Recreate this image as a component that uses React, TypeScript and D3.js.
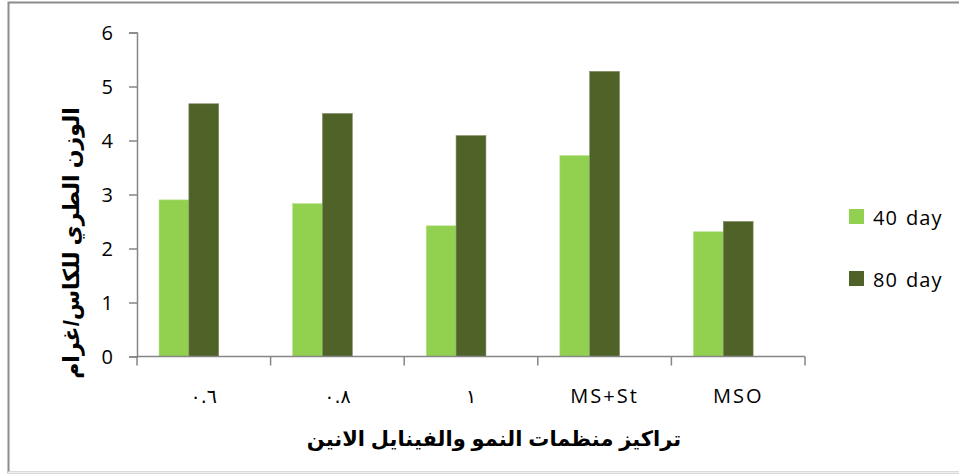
import React, { useRef, useEffect } from "react";
import * as d3 from "d3";

// Chart data
const categories = ["٠.٦", "٠.٨", "١", "MS+St", "MSO"];
const series = ["40 day", "80 day"];
const day40 = [2.9, 2.83, 2.42, 3.72, 2.31];
const day80 = [4.68, 4.5, 4.09, 5.28, 2.5];
const yTicks = [0, 1, 2, 3, 4, 5, 6];
const colors = ["#92D050", "#4F6228"];

const yTitle = "الوزن الطري للكاس/غرام";
const xTitle = "تراكيز منظمات النمو والفينايل الانين";

const App = () => {
  const svgRef = useRef<SVGSVGElement>(null);

  useEffect(() => {
    document.body.style.margin = "0";
    const width = 959;
    const height = 474;
    const margin = { top: 32.5, right: 154, bottom: 117.5, left: 137 };
    const font = "'Open Sans', sans-serif";
    const arFont = "'Liberation Sans', Arial, 'DejaVu Sans', sans-serif";

    const svg = d3.select(svgRef.current).attr("width", width).attr("height", height);
    svg.selectAll("*").remove();

    // outer chart border
    svg
      .append("rect")
      .attr("x", 8.5)
      .attr("y", 2.5)
      .attr("width", 960)
      .attr("height", 470)
      .attr("fill", "white")
      .attr("stroke", "#8c8c8c")
      .attr("stroke-width", 2);
    svg
      .append("line")
      .attr("x1", 8)
      .attr("x2", width)
      .attr("y1", 472.5)
      .attr("y2", 472.5)
      .attr("stroke", "#eeeeee")
      .attr("stroke-width", 2);

    const x0 = d3
      .scaleBand()
      .domain(categories)
      .range([margin.left, width - margin.right])
      .paddingInner(0.33)
      .paddingOuter(0.165);

    // third slot is an empty series, as in the original sheet
    const x1 = d3
      .scaleBand<number>()
      .domain([0, 1, 2])
      .range([0, x0.bandwidth()]);

    const y = d3
      .scaleLinear()
      .domain([0, 6])
      .range([height - margin.bottom, margin.top]);

    const rows = categories.map((c, i) => ({ c, vals: [day40[i], day80[i]] }));

    const groups = svg
      .append("g")
      .selectAll("g")
      .data(rows)
      .join("g")
      .attr("transform", (d) => `translate(${x0(d.c)},0)`);

    groups
      .selectAll("rect")
      .data((d) => d.vals)
      .join("rect")
      .attr("x", (_d, i) => x1(i)!)
      .attr("y", (d) => y(d))
      .attr("width", x1.bandwidth())
      .attr("height", (d) => y(0) - y(d))
      .attr("fill", (_d, i) => colors[i])
      .attr("stroke", (_d, i) => (i === 0 ? "#b5e08a" : "#7d8c62"))
      .attr("stroke-width", 0.6);

    // Y axis
    const yAxis = svg
      .append("g")
      .attr("transform", `translate(${margin.left},0)`)
      .call(d3.axisLeft(y).tickValues(yTicks).tickSize(8).tickPadding(16).tickFormat(d3.format("d")));
    yAxis.select(".domain").attr("stroke", "#868686").attr("stroke-width", 1.5);
    yAxis.selectAll(".tick line").attr("stroke", "#868686").attr("stroke-width", 1.5);
    yAxis
      .selectAll(".tick text")
      .attr("font-family", font)
      .attr("font-size", 20)
      .attr("fill", "#000")
      .attr("dy", "0.36em");

    // X axis with ticks at band boundaries
    const bounds = categories.map((c) => x0(c)! - (x0.step() * x0.paddingInner()) / 2);
    bounds.push(width - margin.right);
    const xAxis = svg.append("g");
    xAxis
      .append("line")
      .attr("x1", margin.left)
      .attr("x2", width - margin.right)
      .attr("y1", y(0))
      .attr("y2", y(0))
      .attr("stroke", "#868686")
      .attr("stroke-width", 1.5);
    xAxis
      .selectAll(".xt")
      .data(bounds)
      .join("line")
      .attr("x1", (d) => d)
      .attr("x2", (d) => d)
      .attr("y1", y(0))
      .attr("y2", y(0) + 9)
      .attr("stroke", "#868686")
      .attr("stroke-width", 1.5);
    xAxis
      .selectAll(".xl")
      .data(categories)
      .join("text")
      .attr("x", (d) => x0(d)! + x0.bandwidth() / 2)
      .attr("y", 403)
      .attr("text-anchor", "middle")
      .attr("direction", "ltr")
      .attr("font-family", (_d, i) => (i < 3 ? "'DejaVu Sans', sans-serif" : font))
      .attr("font-size", (_d, i) => (i < 3 ? 19 : 20))
      .attr("letter-spacing", 2)
      .attr("fill", "#000")
      .text((d) => d);

    // axis titles
    svg
      .append("text")
      .attr("x", 494)
      .attr("y", 446)
      .attr("text-anchor", "middle")
      .attr("font-family", arFont)
      .attr("font-weight", "bold")
      .attr("font-size", 21)
      .attr("fill", "#000")
      .text(xTitle);

    svg
      .append("text")
      .attr("transform", `translate(79,243) rotate(-90)`)
      .attr("text-anchor", "middle")
      .attr("font-family", arFont)
      .attr("font-weight", "bold")
      .attr("font-size", 22)
      .attr("fill", "#000")
      .text(yTitle);

    // legend
    const legend = svg
      .append("g")
      .selectAll("g")
      .data(series)
      .join("g")
      .attr("transform", (_d, i) => `translate(849,${209 + i * 62})`);
    legend
      .append("rect")
      .attr("width", 15)
      .attr("height", 15)
      .attr("fill", (_d, i) => colors[i]);
    legend
      .append("text")
      .attr("x", 24)
      .attr("y", 16)
      .attr("font-family", font)
      .attr("font-size", 20)
      .attr("letter-spacing", 1)
      .attr("word-spacing", 2)
      .attr("fill", "#000")
      .text((d) => d);
  }, []);

  return (
    <div>
      <svg ref={svgRef}></svg>
    </div>
  );
};

export default App;
